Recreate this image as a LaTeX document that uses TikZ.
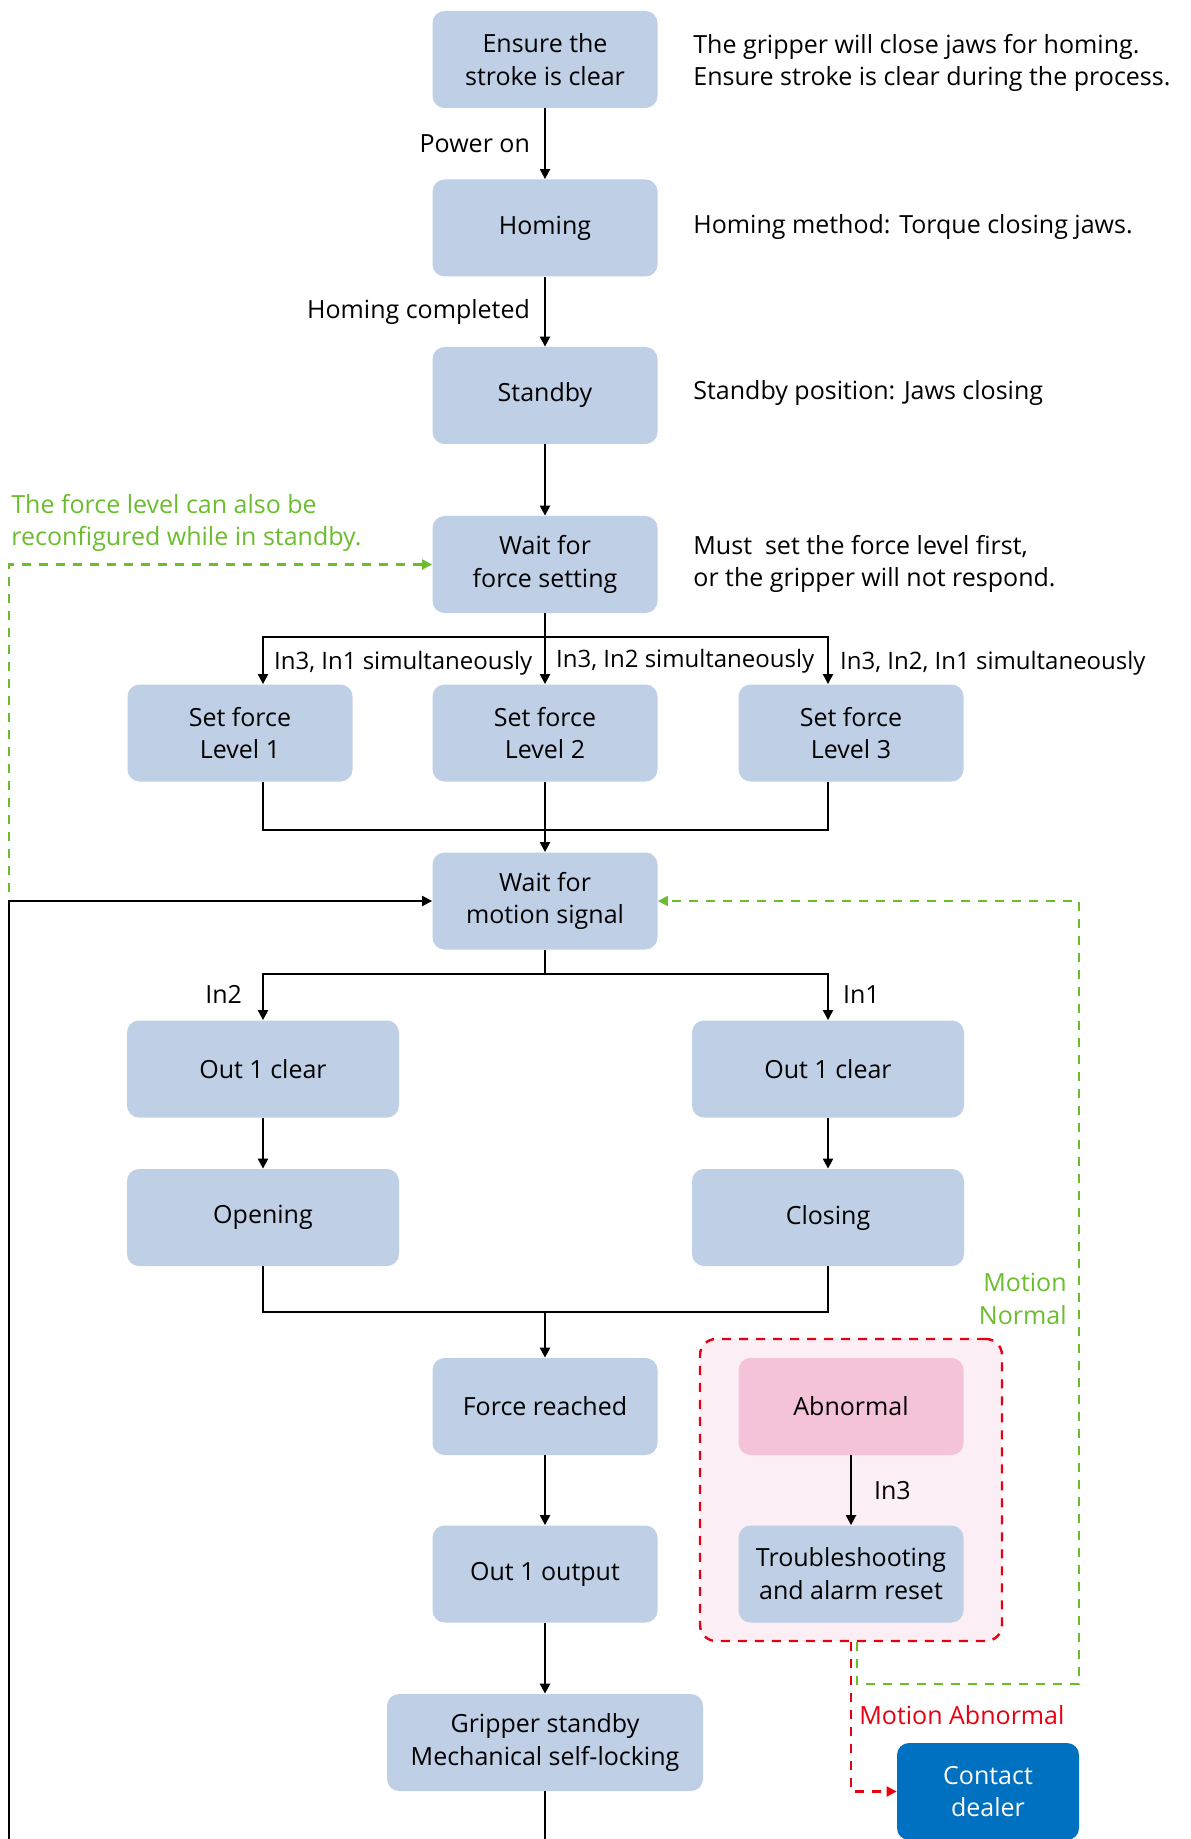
\documentclass[tikz,border=0pt]{standalone}
\usepackage{fontspec}
\setmainfont{Open Sans}
\usetikzlibrary{arrows.meta}
\definecolor{boxblue}{HTML}{BFCFE6}
\definecolor{boxpink}{HTML}{F4C3D9}
\definecolor{palepink}{HTML}{FCEEF5}
\definecolor{linegreen}{HTML}{6BBD2E}
\definecolor{linered}{HTML}{E60012}
\definecolor{dealerblue}{HTML}{0070C0}

\begin{document}
\begin{tikzpicture}[x=0.5pt,y=-0.5pt]
\tikzstyle{every node}+=[font=\fontsize{12.5}{16.4}\selectfont]
\tikzstyle{state}=[fill=boxblue, rounded corners=6pt, minimum width=112.5pt, minimum height=48.5pt, align=center, inner sep=0pt]
\tikzstyle{wide}=[state, minimum width=136pt]
\tikzstyle{note}=[anchor=west, align=left, inner sep=0pt]
\tikzstyle{lbl}=[inner sep=0pt]
\tikzstyle{small}=[lbl, font=\fontsize{12}{14}\selectfont]
\tikzstyle{arr}=[line width=1.1pt, -{Triangle[length=5pt,width=5pt]}]
\tikzstyle{bus}=[line width=1.1pt]
\tikzstyle{gdash}=[line width=1.1pt, linegreen, dash pattern=on 4.5pt off 4pt, -{Triangle[length=5pt,width=5pt]}]
\tikzstyle{rdash}=[line width=1.1pt, linered, dash pattern=on 4.5pt off 4pt, -{Triangle[length=5pt,width=5pt]}]
\useasboundingbox (0,0) rectangle (1190,1839);
\node [draw=linered, fill=palepink, line width=1.2pt, dash pattern=on 4.5pt off 4pt, rounded corners=8pt, minimum width=151pt, minimum height=151pt] (rbox) at (851,1490) {};
\node [state] (ens) at (545,59.5) {Ensure the\\stroke is clear};
\node [state] (hom) at (545,228) {Homing};
\node [state] (stb) at (545,395.5) {Standby};
\node [state] (wf) at (545,564.5) {Wait for\\force setting};
\node [state] (lv1) at (240,733) {Set force\\Level 1};
\node [state] (lv2) at (545,733) {Set force\\Level 2};
\node [state] (lv3) at (851,733) {Set force\\Level 3};
\node [state] (wm) at (545,901) {Wait for\\motion signal};
\node [wide] (oc1) at (263,1069) {Out 1 clear};
\node [wide] (oc2) at (828,1069) {Out 1 clear};
\node [wide] (op) at (263,1217.5) {Opening};
\node [wide] (cl) at (828,1217.5) {Closing};
\node [state] (fr) at (545,1406.5) {Force reached};
\node [state, fill=boxpink] (ab) at (851,1406.5) {Abnormal};
\node [state] (oo) at (545,1574) {Out 1 output};
\node [state] (ts) at (851,1574) {Troubleshooting\\and alarm reset};
\node [state, minimum width=158pt] (gs) at (545,1742.5) {Gripper standby\\Mechanical self-locking};
\node [state, fill=dealerblue, text=white, minimum width=91pt] (cd) at (988,1791.5) {Contact\\dealer};
\node [note] (n1) at (693,63) {The gripper will close jaws for homing.\\Ensure stroke is clear during the process.};
\node [note] (n2) at (693,227) {Homing method: Torque closing jaws.};
\node [note] (n3) at (693,393) {Standby position: Jaws closing};
\node [note] (n4) at (693,564) {Must\ \ set the force level first,\\or the gripper will not respond.};
\node [note, text=linegreen] (n5) at (11,523) {The force level can also be\\reconfigured while in standby.};
\node [lbl, anchor=east, align=right, text=linegreen] (mn) at (1067,1299) {Motion\\Normal};
\node [lbl, anchor=west, text=linered] (ma) at (859,1715) {Motion Abnormal};
\coordinate (sp1) at (545,637);
\coordinate (mg1) at (545,830);
\coordinate (sp2) at (545,974);
\coordinate (mg2) at (545,1312);
\coordinate (lb) at (9,1850);
\coordinate (bt) at (545,1850);
\coordinate (gl) at (9,892);
\coordinate (gr) at (1079,1684);
\draw [arr] (ens) -- (hom) node [lbl, midway, left=7pt] {Power on};
\draw [arr] (hom) -- (stb) node [lbl, midway, left=7pt] {Homing completed};
\draw [arr] (stb) -- (wf);
\draw [arr] (wf) -- (lv2) node [small, pos=0.68, right=5pt] {In3, In2 simultaneously};
\draw [arr] (sp1) -| (lv1.north -| oc1) node [small, pos=0.78, right=5pt] {In3, In1 simultaneously};
\draw [arr] (sp1) -| (lv3.north -| oc2) node [small, pos=0.78, right=5.5pt] {In3, In2, In1 simultaneously};
\draw [bus] (lv1.south -| oc1) |- (mg1) -| (lv3.south -| oc2);
\draw [arr] (lv2) -- (wm);
\draw [bus] (wm) -- (sp2);
\draw [arr] (sp2) -| (oc1) node [lbl, pos=0.72, left=10pt] {In2};
\draw [arr] (sp2) -| (oc2) node [lbl, pos=0.72, right=7pt] {In1};
\draw [arr] (oc1) -- (op);
\draw [arr] (oc2) -- (cl);
\draw [bus] (op) |- (mg2) -| (cl);
\draw [arr] (mg2) -- (fr);
\draw [arr] (fr) -- (oo);
\draw [arr] (oo) -- (gs);
\draw [bus] (gs) -- (bt);
\draw [arr] (ab) -- (ts) node [lbl, midway, right=11pt] {In3};
\draw [arr] (lb) |- (wm);
\draw [gdash] (gl) |- (wf);
\draw [gdash] ([xshift=3pt]rbox.south) |- (gr) |- (wm.east);
\draw [rdash] (rbox.south) |- (cd);
\end{tikzpicture}
\end{document}
